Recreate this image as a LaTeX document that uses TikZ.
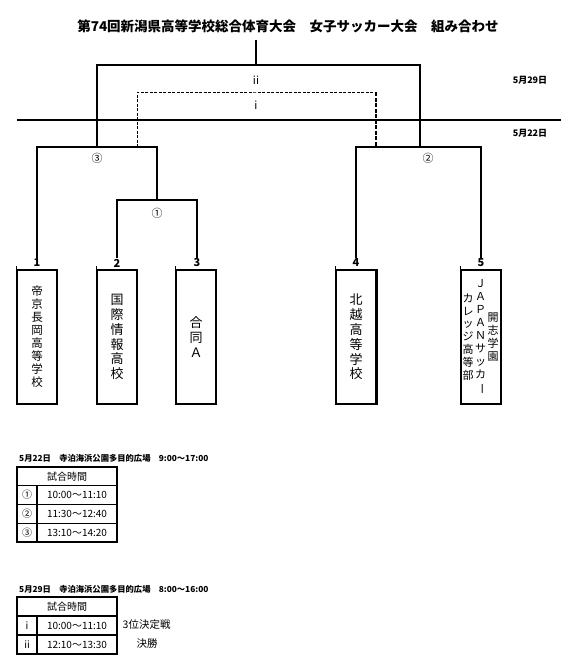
\documentclass[tikz,border=0pt]{standalone}
\usepackage{fontspec}
\setmainfont{Noto Sans CJK JP}
\newcommand{\vbar}{\rotatebox[origin=c]{-90}{ー}}
\tikzset{
  br/.style={line width=1.2pt},
  stem/.style={line width=2.2pt},
  dsh/.style={line width=0.9pt, dash pattern=on 3pt off 1.5pt},
  dshthick/.style={line width=2pt, dash pattern=on 4pt off 1.5pt},
  team/.style={draw, line width=1.2pt, minimum width=40pt, minimum height=134pt, inner sep=0pt, align=center},
  num/.style={font=\bfseries\fontsize{11}{11}\selectfont, inner sep=0.5pt},
  mlabel/.style={font=\fontsize{11}{11}\selectfont, inner sep=0pt},
  datelbl/.style={font=\bfseries\fontsize{9}{9}\selectfont, inner sep=0pt},
  captn/.style={font=\bfseries\fontsize{8.3}{8.3}\selectfont, inner sep=0pt, anchor=west},
  cellbox/.style={draw, line width=1.2pt, inner sep=0pt, minimum height=18.75pt, font=\fontsize{10}{10}\selectfont},
  cellbox2/.style={draw, line width=1.2pt, inner sep=0pt, minimum height=19pt, font=\fontsize{10}{10}\selectfont},
  tick/.style={line width=1.2pt},
  side/.style={font=\fontsize{10.5}{10.5}\selectfont, inner sep=0pt},
}
\begin{document}
\begin{tikzpicture}[x=1pt,y=-1pt]
\useasboundingbox (0,0) rectangle (575,669);

% title
\node[font=\bfseries\fontsize{13.5}{13.5}\selectfont, inner sep=0pt] (title) at (288,26)
  {第74回新潟県高等学校総合体育大会　女子サッカー大会　組み合わせ};

% date labels and divider
\node[datelbl] (d29) at (530,80) {5月29日};
\node[datelbl] (d22) at (530,133) {5月22日};
\coordinate (hl) at (17,120);
\coordinate (hr) at (561,120);
\draw[br] (hl) -- (hr);

% team boxes
\node[team, font=\fontsize{11.5}{13}\selectfont] (b1) at (37,337) {帝\\京\\長\\岡\\高\\等\\学\\校};
\node[team, font=\fontsize{13}{14.8}\selectfont] (b2) at (117,337) {国\\際\\情\\報\\高\\校};
\node[team, font=\fontsize{13}{15}\selectfont] (b3) at (196,337) {合\\同\\Ａ};
\node[team, font=\fontsize{13}{14.8}\selectfont] (b4) at (356,337) {北\\越\\高\\等\\学\\校};
\node[team] (b5) at (481,337) {};
\draw[line width=2pt] (b4.north east) -- (b4.south east);
\node[align=center, inner sep=0pt, font=\fontsize{11}{12.9}\selectfont] (t5c) at (493,337) {開\\志\\学\\園};
\node[align=center, inner sep=0pt, font=\fontsize{11}{12.9}\selectfont] (t5b) at (480.5,337) {Ｊ\\Ａ\\Ｐ\\Ａ\\Ｎ\\サ\\ッ\\カ\\\vbar};
\node[align=center, inner sep=0pt, font=\fontsize{11}{12.9}\selectfont] (t5a) at (468,337) {カ\\レ\\ッ\\ジ\\高\\等\\部};

% small ticks above box corners
\foreach \b in {b1,b2,b3,b4,b5} \draw[tick] (\b.north west) -- ++(0,-3);

% numbers
\node[num] (n1) at (37,263) {1};
\node[num] (n2) at (117,263) {2};
\node[num] (n3) at (197,263) {3};
\node[num] (n4) at (356,263) {4};
\node[num] (n5) at (481,263) {5};

% bracket junctions
\coordinate (c1) at (157,200);
\coordinate (c3) at (97,147);
\coordinate (c2) at (420,147);
\coordinate (cf) at (256,65);
\coordinate (champ) at (256,40);
\coordinate (l3) at (137,147);
\coordinate (l2) at (376,147);
\coordinate (ct) at (256,92);

\draw[br] (n2.north) |- (c1) -| (n3.north);
\draw[br] (n1.north) |- (c3) -| (c1);
\draw[br] (n4.north) |- (c2) -| (n5.north);
\draw[br] (c3) |- (cf) -| (c2);
\draw[stem] (cf) -- (champ);
\draw[dsh] (l3) |- (ct) -- (ct -| l2);
\draw[dshthick] (ct -| l2) -- (l2);

% match labels
\node[mlabel] (mii) at (256,80) {ii};
\node[mlabel] (mi) at (256,105) {i};
\node[mlabel] (m3) at (97,158) {③};
\node[mlabel] (m1) at (157,213) {①};
\node[mlabel] (m2) at (428,158) {②};

% table 1
\node[captn] (cap1) at (19,458) {5月22日　寺泊海浜公園多目的広場　9:00～17:00};
\node[cellbox, minimum width=100pt] (h1) at (67,476.4) {試合時間};
\node[cellbox, minimum width=20pt] (a1) at (27,495.1) {①};
\node[cellbox, minimum width=80pt] (a2) at (77,495.1) {10:00～11:10};
\node[cellbox, minimum width=20pt] (a3) at (27,513.9) {②};
\node[cellbox, minimum width=80pt] (a4) at (77,513.9) {11:30～12:40};
\node[cellbox, minimum width=20pt] (a5) at (27,532.6) {③};
\node[cellbox, minimum width=80pt] (a6) at (77,532.6) {13:10～14:20};

% table 2
\node[captn] (cap2) at (19,589) {5月29日　寺泊海浜公園多目的広場　8:00～16:00};
\node[cellbox2, minimum width=100pt] (h2) at (67,606.5) {試合時間};
\node[cellbox2, minimum width=20pt] (e1) at (27,625.5) {i};
\node[cellbox2, minimum width=80pt] (e2) at (77,625.5) {10:00～11:10};
\node[cellbox2, minimum width=20pt] (e3) at (27,644.5) {ii};
\node[cellbox2, minimum width=80pt] (e4) at (77,644.5) {12:10～13:30};
\node[side, anchor=west] (s1) at (122.5,625) {3位決定戦};
\node[side] (s2) at (147,644) {決勝};
\end{tikzpicture}
\end{document}
